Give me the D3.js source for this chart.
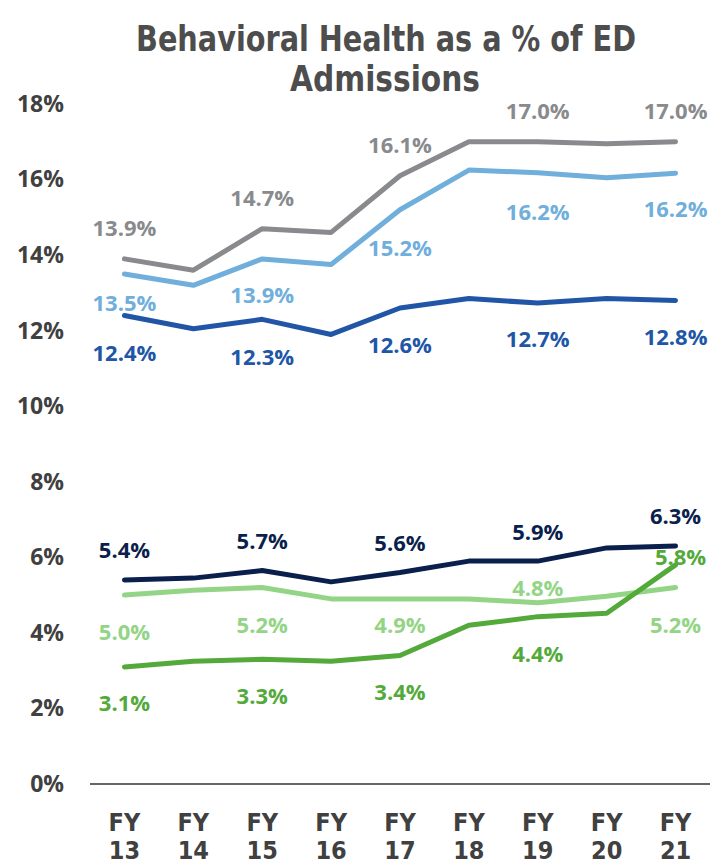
<!DOCTYPE html>
<html>
<head>
<meta charset="utf-8">
<script src="https://cdn.jsdelivr.net/npm/d3@7"></script>
<style>
  body { margin: 0; background: #fff; }
  text { font-family: "Open Sans", "DejaVu Sans", sans-serif; font-weight: 700; }
  text.cond { font-family: "Liberation Sans Narrow", "DejaVu Sans Condensed", sans-serif; }
</style>
</head>
<body>
<div id="main"></div>
<script>
// categories and values (% of ED admissions)
const years = ['13', '14', '15', '16', '17', '18', '19', '20', '21'];
const yTicks = [0, 2, 4, 6, 8, 10, 12, 14, 16, 18];
const titleLines = ['Behavioral Health as a % of ED', 'Admissions'];

const grayVals = [13.9, 13.6, 14.7, 14.6, 16.1, 17.0, 17.0, 16.95, 17.0];
const lightBlueVals = [13.5, 13.2, 13.9, 13.75, 15.2, 16.25, 16.18, 16.05, 16.17];
const blueVals = [12.4, 12.05, 12.3, 11.9, 12.6, 12.85, 12.73, 12.85, 12.8];
const navyVals = [5.4, 5.45, 5.65, 5.35, 5.6, 5.9, 5.9, 6.25, 6.3];
const lightGreenVals = [5.0, 5.13, 5.2, 4.9, 4.9, 4.9, 4.8, 4.97, 5.2];
const greenVals = [3.1, 3.25, 3.3, 3.25, 3.4, 4.2, 4.43, 4.52, 5.8];

// label nudges (px) for the labelled years 13, 15, 17, 19, 21
const series = [
  { vals: grayVals, color: '#898a8d', dy: [-32, -32, -32, -32, -32] },
  { vals: lightBlueVals, color: '#70aedb', dy: [28, 35, 37, 38, 35] },
  { vals: blueVals, color: '#2156a7', dy: [36, 37, 36, 35, 36] },
  { vals: navyVals, color: '#0b1f4d', dy: [-31, -31, -30, -30, -31] },
  { vals: lightGreenVals, color: '#93d486', dy: [36, 36, 25, -16, 36] },
  { vals: greenVals, color: '#53aa3a', dy: [35, 36, 35, 36, -9], dx: [0, 0, 0, 0, 5] }
];

const svgWidth = 728;
const svgHeight = 866;
const margin = { t: 104, r: 18, b: 82, l: 90 };

const svg = d3.select('#main').append('svg')
  .attr('width', svgWidth)
  .attr('height', svgHeight);

const x = d3.scaleBand()
  .domain(years)
  .range([margin.l, svgWidth - margin.r])
  .padding(0);

const y = d3.scaleLinear()
  .domain([0, 18])
  .range([svgHeight - margin.b, margin.t]);

const cx = d => x(d) + x.bandwidth() / 2;

// Title, two lines, squeezed to the reference widths
svg.append('text')
  .attr('class', 'cond')
  .attr('x', 386).attr('y', 51)
  .attr('text-anchor', 'middle')
  .attr('fill', '#4d4d4d')
  .attr('textLength', 500).attr('lengthAdjust', 'spacingAndGlyphs')
  .style('font-size', '36px')
  .text(titleLines[0]);
svg.append('text')
  .attr('class', 'cond')
  .attr('x', 385).attr('y', 91)
  .attr('text-anchor', 'middle')
  .attr('fill', '#4d4d4d')
  .attr('textLength', 190).attr('lengthAdjust', 'spacingAndGlyphs')
  .style('font-size', '36px')
  .text(titleLines[1]);

// Y axis labels (no line)
const yAxis = d3.axisLeft(y).tickValues(yTicks).tickFormat(d => d + '%').tickSize(0).tickPadding(0);
const yg = svg.append('g')
  .attr('transform', 'translate(64,0)')
  .call(yAxis);
yg.select('.domain').remove();
yg.selectAll('text')
  .attr('fill', '#404040')
  .style('font-size', '23px')
  .style('font-family', '"Open Sans", sans-serif')
  .style('font-weight', 700);

// X axis baseline
svg.append('line')
  .attr('x1', margin.l).attr('x2', svgWidth - margin.r)
  .attr('y1', y(0)).attr('y2', y(0))
  .attr('stroke', '#666').attr('stroke-width', 2);

// X labels, two lines
const xl = svg.append('g').selectAll('text')
  .data(years)
  .enter().append('text')
  .attr('class', 'cond')
  .attr('text-anchor', 'middle')
  .attr('fill', '#404040')
  .style('font-size', '25px');
xl.append('tspan').attr('x', cx).attr('y', 831).text('FY');
xl.append('tspan').attr('x', cx).attr('y', 859).text(d => d);

// Lines
const line = d3.line()
  .x((d, i) => cx(years[i]))
  .y(d => y(d));

series.forEach(s => {
  svg.append('path')
    .datum(s.vals)
    .attr('fill', 'none')
    .attr('stroke', s.color)
    .attr('stroke-width', 5)
    .attr('stroke-linejoin', 'round')
    .attr('stroke-linecap', 'round')
    .attr('d', line);
});

// Value labels on every other year
series.forEach(s => {
  const pts = s.vals.map((v, i) => ({ v, i })).filter(d => d.i % 2 === 0);
  svg.append('g').selectAll('text')
    .data(pts)
    .enter().append('text')
    .attr('text-anchor', 'middle')
    .attr('dominant-baseline', 'central')
    .attr('x', (d, k) => cx(years[d.i]) + (s.dx ? s.dx[k] : 0))
    .attr('y', (d, k) => y(d.v) + s.dy[k])
    .attr('fill', s.color)
    .style('font-size', '22px')
    .text(d => d.v.toFixed(1) + '%');
});
</script>
</body>
</html>
